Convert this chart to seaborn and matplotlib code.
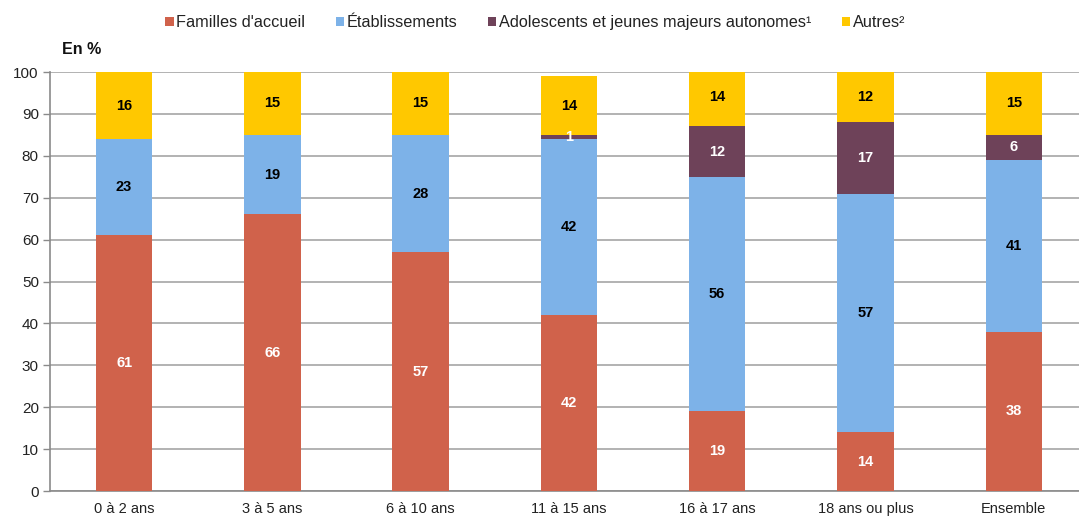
import numpy as np
import pandas as pd
import matplotlib
matplotlib.use("Agg")
import matplotlib.pyplot as plt
import seaborn as sns

categories = ["0 à 2 ans", "3 à 5 ans", "6 à 10 ans", "11 à 15 ans",
              "16 à 17 ans", "18 ans ou plus", "Ensemble"]
series_names = ["Familles d'accueil", "Établissements",
                "Adolescents et jeunes majeurs autonomes¹", "Autres²"]
familles = [61, 66, 57, 42, 19, 14, 38]
etablissements = [23, 19, 28, 42, 56, 57, 41]
adolescents = [0, 0, 0, 1, 12, 17, 6]
autres = [16, 15, 15, 14, 14, 12, 15]
y_ticks = [0, 10, 20, 30, 40, 50, 60, 70, 80, 90, 100]

colors = ["#D0624B", "#7DB2E8", "#6E4259", "#FFC800"]
label_colors = ["white", "black", "white", "black"]

sns.set_theme(style="white")
plt.rcParams["font.family"] = ["Liberation Sans", "DejaVu Sans"]

values = [familles, etablissements, adolescents, autres]
df = pd.DataFrame({"categorie": categories})
for name, vals in zip(series_names, values):
    df[name] = vals

fig = plt.figure(figsize=(10.79, 5.18), dpi=100)
ax = fig.add_axes([0.0463, 0.052, 0.9537, 0.809])

bottom = np.zeros(len(categories))
for name, color, lc in zip(series_names, colors, label_colors):
    vals = df[name].to_numpy(dtype=float)
    sns.barplot(data=df, x="categorie", y=name, color=color, bottom=bottom,
                width=0.38, ax=ax, label=name, saturation=1, zorder=3,
                edgecolor="none", linewidth=0)
    for i, v in enumerate(vals):
        if v > 0:
            ax.text(i, bottom[i] + v / 2, f"{v:.0f}", ha="center", va="center",
                    color=lc, fontsize=10.5, fontweight="bold", zorder=4)
    bottom = bottom + vals

handles, labels = ax.get_legend_handles_labels()
if ax.get_legend() is not None:
    ax.get_legend().remove()

ax.set_ylim(0, 100)
ax.set_xlim(-0.5, 6.44)
ax.set_yticks(y_ticks)
ax.set_yticklabels([str(t) for t in y_ticks], fontsize=11, color="#222222")
ax.tick_params(axis="x", which="major", length=0, labelsize=10.5,
               labelcolor="#222222", pad=8)
ax.set_xticks(np.arange(-0.5, 6.5, 1), minor=True)
ax.tick_params(axis="x", which="minor", length=5, width=1, color="#8A8A8A",
               direction="out")
ax.tick_params(axis="y", length=5, width=1, color="#8A8A8A", direction="out",
               left=True, pad=3)
ax.set_xlabel("")
ax.set_ylabel("")
ax.yaxis.grid(True, color="#A6A6A6", linewidth=1.2, zorder=0)
ax.xaxis.grid(False)
for side in ["top", "right"]:
    ax.spines[side].set_visible(False)
for side in ["left", "bottom"]:
    ax.spines[side].set_color("#8A8A8A")
    ax.spines[side].set_linewidth(1.2)

fig.text(0.057, 0.905, "En %", fontsize=11.5, fontweight="bold",
         ha="left", va="center", color="#111111")

leg = fig.legend(handles, labels, loc="center", bbox_to_anchor=(0.496, 0.956),
                 ncol=4, frameon=False, fontsize=11.7, handlelength=0.5,
                 handleheight=0.5, handletextpad=0.15, columnspacing=1.9)
for t in leg.get_texts():
    t.set_color("#222222")

fig.savefig("out.png", dpi=100)
